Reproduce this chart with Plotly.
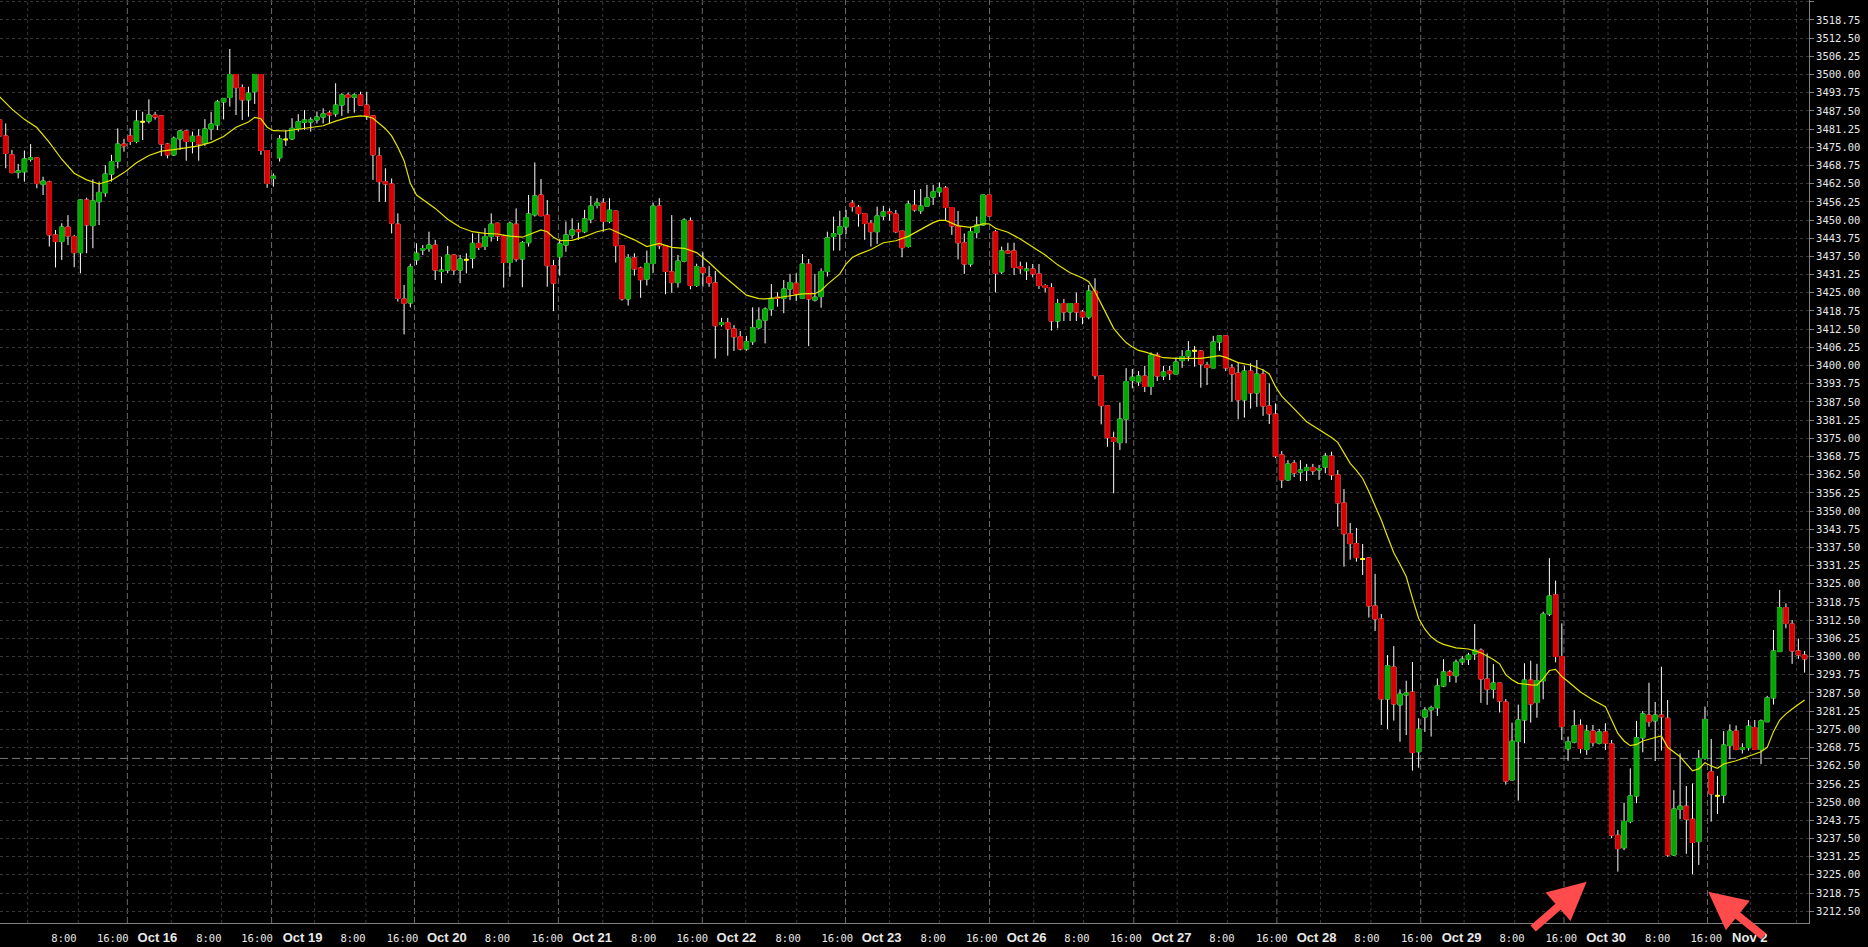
import plotly.graph_objects as go

# ---------------- data (hourly candles) ----------------
opens = [
    3484.4, 3478.9, 3472.4, 3466.3, 3466.6, 3470.9, 3471.4, 3462.3, 3463.1, 3444.9,
    3442.6, 3447.6, 3444.3, 3438.8, 3456.9, 3448.1, 3456.3, 3459.4, 3465.8, 3470.1,
    3476.1, 3478.9, 3477.0, 3483.8, 3484.0, 3486.1, 3485.8, 3476.1, 3472.4, 3477.9,
    3480.6, 3477.0, 3478.8, 3476.4, 3481.3, 3482.7, 3490.6, 3492.1, 3500.0, 3495.5,
    3491.3, 3494.1, 3500.0, 3473.9, 3464.3, 3471.4, 3477.7, 3477.9, 3481.5, 3483.6,
    3483.7, 3484.4, 3485.4, 3486.8, 3486.5, 3489.5, 3493.0, 3492.2, 3493.0, 3489.5,
    3485.8, 3472.0, 3463.2, 3462.4, 3448.6, 3422.9, 3421.5, 3436.3, 3439.7, 3440.2,
    3441.4, 3432.3, 3432.8, 3438.0, 3432.8, 3436.4, 3436.9, 3442.0, 3440.9, 3444.3,
    3448.9, 3444.5, 3435.4, 3448.6, 3436.6, 3442.2, 3451.8, 3458.6, 3451.7, 3434.3,
    3437.4, 3441.4, 3444.9, 3446.6, 3446.0, 3450.3, 3455.0, 3455.9, 3449.5, 3453.1,
    3441.2, 3422.9, 3437.0, 3433.5, 3429.7, 3435.1, 3454.8, 3441.2, 3432.2, 3428.5,
    3435.9, 3449.7, 3427.5, 3433.6, 3430.4, 3428.4, 3414.1, 3414.7, 3412.6, 3409.9,
    3405.7, 3408.2, 3413.0, 3415.6, 3419.4, 3423.5, 3423.1, 3426.3, 3428.3, 3423.1,
    3434.9, 3422.5, 3423.7, 3432.3, 3444.3, 3445.2, 3447.7, 3455.8, 3454.4, 3452.2,
    3448.9, 3446.0, 3451.4, 3452.8, 3452.1, 3446.2, 3440.9, 3455.1, 3453.2, 3454.8,
    3457.9, 3459.7, 3461.0, 3454.3, 3448.0, 3442.2, 3434.9, 3445.7, 3448.3, 3458.6,
    3446.0, 3432.2, 3439.4, 3439.4, 3434.0, 3432.6, 3433.2, 3431.5, 3427.5, 3426.8,
    3415.3, 3421.3, 3418.4, 3421.3, 3418.4, 3416.7, 3425.6, 3396.5, 3386.2, 3375.2,
    3373.5, 3381.6, 3394.9, 3394.4, 3396.4, 3392.8, 3403.6, 3396.4, 3398.1, 3397.1,
    3401.7, 3403.3, 3405.1, 3405.0, 3400.2, 3399.2, 3408.1, 3410.2, 3399.2, 3397.4,
    3388.2, 3398.1, 3390.6, 3397.1, 3386.1, 3383.3, 3369.3, 3360.7, 3366.5, 3363.4,
    3364.0, 3365.0, 3364.1, 3365.1, 3368.9, 3362.4, 3352.8, 3342.2, 3338.8, 3333.5,
    3333.9, 3317.4, 3312.9, 3285.4, 3296.4, 3283.4, 3286.8, 3287.8, 3267.3, 3279.2,
    3281.7, 3282.4, 3289.9, 3294.7, 3293.4, 3298.2, 3299.1, 3300.9, 3302.2, 3292.3,
    3288.8, 3290.9, 3284.4, 3257.6, 3270.8, 3278.2, 3291.9, 3284.2, 3291.7, 3314.6,
    3321.2, 3300.0, 3268.3, 3270.6, 3276.4, 3268.1, 3274.4, 3270.2, 3274.1, 3270.0,
    3238.6, 3234.3, 3243.3, 3252.1, 3272.1, 3279.9, 3277.9, 3279.9, 3278.8, 3231.8,
    3247.5, 3248.6, 3244.1, 3236.4, 3265.0, 3260.4, 3252.2, 3252.4, 3269.4, 3274.4,
    3268.1, 3268.7, 3275.6, 3268.1, 3277.6, 3285.8, 3301.7, 3316.8, 3311.2, 3301.9,
    3300.5,
]
highs = [
    3486.0, 3483.2, 3474.1, 3469.3, 3473.9, 3476.1, 3471.6, 3464.9, 3463.5, 3446.6,
    3448.9, 3451.7, 3444.9, 3457.1, 3457.7, 3464.0, 3463.2, 3468.9, 3472.4, 3481.5,
    3477.9, 3481.5, 3487.8, 3487.2, 3491.5, 3487.2, 3486.1, 3476.4, 3478.7, 3481.0,
    3481.0, 3480.4, 3481.2, 3484.7, 3487.2, 3491.3, 3491.8, 3508.8, 3500.0, 3496.6,
    3495.8, 3500.0, 3500.0, 3473.9, 3466.0, 3479.2, 3481.0, 3485.0, 3486.4, 3487.8,
    3485.3, 3487.3, 3488.4, 3487.6, 3497.0, 3493.6, 3493.8, 3493.6, 3494.1, 3494.1,
    3486.1, 3474.9, 3467.8, 3464.3, 3452.3, 3427.7, 3435.0, 3442.0, 3441.4, 3446.0,
    3443.2, 3437.4, 3441.1, 3438.2, 3438.0, 3438.6, 3445.4, 3445.4, 3447.2, 3452.3,
    3449.1, 3444.9, 3449.5, 3454.0, 3442.8, 3458.6, 3469.8, 3464.1, 3456.9, 3436.3,
    3443.4, 3449.5, 3450.6, 3449.1, 3453.5, 3458.3, 3457.5, 3457.5, 3457.5, 3453.1,
    3441.2, 3438.3, 3438.6, 3434.0, 3439.5, 3456.0, 3457.5, 3441.2, 3451.7, 3438.0,
    3450.6, 3450.9, 3435.0, 3438.9, 3434.2, 3432.5, 3416.4, 3416.4, 3413.9, 3411.9,
    3410.2, 3420.0, 3420.0, 3420.0, 3428.0, 3425.2, 3429.4, 3431.5, 3431.7, 3438.3,
    3436.6, 3431.5, 3433.4, 3446.0, 3451.2, 3453.2, 3453.5, 3456.9, 3455.2, 3452.2,
    3450.0, 3454.6, 3454.9, 3454.0, 3453.5, 3446.2, 3456.7, 3460.3, 3460.7, 3462.1,
    3462.1, 3462.9, 3461.7, 3454.3, 3453.1, 3445.4, 3447.7, 3451.2, 3458.6, 3458.6,
    3446.6, 3440.9, 3442.2, 3442.2, 3435.7, 3435.5, 3434.9, 3434.9, 3428.0, 3428.3,
    3422.9, 3422.9, 3421.3, 3425.1, 3419.1, 3427.7, 3430.0, 3396.5, 3386.2, 3377.3,
    3387.3, 3399.1, 3398.8, 3398.1, 3399.9, 3404.5, 3404.5, 3399.9, 3399.9, 3402.8,
    3405.3, 3408.4, 3406.7, 3405.3, 3401.3, 3410.2, 3410.2, 3410.2, 3400.5, 3401.0,
    3399.9, 3400.8, 3401.9, 3398.7, 3393.9, 3387.0, 3370.6, 3367.5, 3367.5, 3367.5,
    3366.2, 3366.2, 3365.8, 3370.0, 3370.4, 3364.1, 3357.6, 3345.9, 3344.2, 3338.7,
    3334.1, 3328.4, 3314.6, 3300.5, 3303.6, 3288.7, 3291.7, 3298.1, 3278.8, 3282.6,
    3283.1, 3292.5, 3299.1, 3295.4, 3299.0, 3300.2, 3301.3, 3311.2, 3302.8, 3301.1,
    3297.4, 3290.9, 3285.4, 3277.3, 3283.5, 3297.7, 3298.6, 3297.5, 3315.4, 3333.8,
    3326.1, 3311.4, 3272.5, 3281.6, 3278.4, 3276.5, 3276.5, 3275.1, 3277.1, 3271.3,
    3240.4, 3249.8, 3261.6, 3277.9, 3281.3, 3291.0, 3284.4, 3296.5, 3285.1, 3254.1,
    3266.7, 3255.5, 3256.4, 3267.9, 3282.8, 3271.7, 3259.0, 3274.4, 3276.7, 3276.3,
    3270.2, 3278.2, 3278.2, 3278.4, 3286.5, 3309.1, 3322.9, 3318.3, 3312.6, 3306.2,
    3301.9,
]
lows = [
    3476.5, 3467.8, 3466.1, 3464.3, 3463.2, 3470.1, 3460.9, 3458.6, 3440.9, 3433.7,
    3436.3, 3441.4, 3433.8, 3431.7, 3438.6, 3440.3, 3448.3, 3458.0, 3463.2, 3467.8,
    3473.5, 3475.8, 3476.4, 3477.5, 3483.2, 3484.5, 3472.0, 3471.2, 3472.0, 3474.1,
    3470.4, 3472.9, 3470.4, 3475.5, 3477.5, 3481.0, 3484.6, 3489.0, 3486.1, 3484.4,
    3485.5, 3489.9, 3472.4, 3461.1, 3461.5, 3470.1, 3475.5, 3477.5, 3480.4, 3481.0,
    3480.4, 3483.2, 3483.2, 3483.2, 3485.5, 3485.8, 3486.7, 3486.9, 3489.5, 3484.4,
    3463.8, 3456.3, 3456.3, 3445.4, 3422.0, 3410.7, 3420.0, 3434.6, 3438.0, 3439.1,
    3429.4, 3428.3, 3431.7, 3431.1, 3428.3, 3431.7, 3433.4, 3439.7, 3439.7, 3442.6,
    3442.8, 3426.8, 3430.5, 3435.7, 3426.9, 3440.9, 3451.2, 3451.4, 3427.1, 3418.7,
    3430.9, 3439.1, 3443.7, 3443.2, 3445.5, 3448.9, 3454.0, 3446.0, 3448.9, 3435.4,
    3422.3, 3420.6, 3430.9, 3423.3, 3427.5, 3431.9, 3440.0, 3424.5, 3425.0, 3426.8,
    3435.5, 3426.2, 3427.0, 3427.1, 3427.1, 3402.4, 3413.4, 3403.4, 3405.0, 3405.2,
    3405.1, 3407.1, 3412.5, 3407.6, 3417.1, 3420.2, 3418.0, 3422.5, 3422.2, 3422.9,
    3406.7, 3422.0, 3419.9, 3430.6, 3439.5, 3439.5, 3445.2, 3452.9, 3447.7, 3443.2,
    3440.9, 3441.8, 3450.0, 3449.8, 3445.5, 3437.2, 3440.5, 3452.9, 3452.1, 3454.8,
    3455.2, 3458.0, 3450.0, 3444.9, 3436.5, 3431.5, 3434.0, 3443.7, 3448.0, 3451.2,
    3425.1, 3431.5, 3438.6, 3431.1, 3431.5, 3429.4, 3430.3, 3426.3, 3425.2, 3412.0,
    3412.8, 3415.3, 3415.3, 3415.3, 3414.2, 3415.9, 3395.3, 3379.8, 3372.1, 3356.1,
    3371.0, 3373.3, 3392.2, 3393.0, 3390.9, 3389.9, 3394.7, 3395.0, 3395.0, 3397.1,
    3399.2, 3401.5, 3399.6, 3392.4, 3393.3, 3399.2, 3405.1, 3398.1, 3387.6, 3381.5,
    3382.1, 3385.2, 3385.8, 3382.7, 3379.9, 3368.2, 3357.9, 3360.3, 3361.7, 3360.3,
    3360.3, 3362.4, 3360.7, 3363.0, 3360.7, 3344.6, 3330.9, 3333.3, 3332.6, 3328.0,
    3313.4, 3308.8, 3276.5, 3275.1, 3278.0, 3270.7, 3273.0, 3260.8, 3261.8, 3274.1,
    3272.5, 3279.6, 3289.5, 3291.2, 3291.0, 3297.1, 3297.1, 3298.8, 3284.1, 3283.4,
    3285.6, 3280.8, 3256.0, 3257.5, 3250.5, 3270.2, 3277.3, 3279.0, 3285.3, 3313.9,
    3298.0, 3271.3, 3264.2, 3270.2, 3266.7, 3266.2, 3269.1, 3269.8, 3267.9, 3237.6,
    3226.1, 3233.5, 3242.7, 3249.6, 3267.1, 3275.9, 3264.1, 3267.7, 3231.2, 3231.5,
    3244.1, 3232.2, 3225.2, 3228.4, 3264.5, 3243.3, 3245.9, 3249.6, 3264.7, 3267.8,
    3266.7, 3267.7, 3268.1, 3263.0, 3277.5, 3283.5, 3301.7, 3309.7, 3297.5, 3299.2,
    3294.5,
]
closes = [
    3478.9, 3472.9, 3466.3, 3466.9, 3471.0, 3471.4, 3462.6, 3463.4, 3444.9, 3442.6,
    3447.6, 3444.5, 3438.8, 3456.9, 3448.3, 3456.6, 3459.5, 3465.8, 3470.1, 3476.1,
    3475.5, 3477.0, 3484.0, 3483.8, 3486.1, 3485.4, 3476.1, 3472.4, 3478.1, 3480.6,
    3477.0, 3478.8, 3476.1, 3481.3, 3483.0, 3490.6, 3491.8, 3500.0, 3495.5, 3491.3,
    3493.6, 3500.0, 3473.9, 3462.6, 3465.1, 3477.9, 3477.7, 3481.5, 3483.8, 3484.4,
    3484.4, 3485.4, 3486.5, 3486.1, 3489.5, 3493.0, 3492.2, 3493.0, 3489.5, 3485.8,
    3472.4, 3463.2, 3462.4, 3448.9, 3423.1, 3421.4, 3433.9, 3438.6, 3440.2, 3441.4,
    3432.8, 3432.8, 3438.0, 3432.8, 3436.6, 3436.4, 3442.0, 3440.6, 3444.3, 3448.6,
    3444.5, 3435.4, 3448.9, 3436.6, 3442.2, 3452.1, 3458.3, 3451.5, 3434.3, 3428.3,
    3441.8, 3444.9, 3446.6, 3446.0, 3450.4, 3454.8, 3455.9, 3449.5, 3453.4, 3441.2,
    3422.9, 3437.0, 3433.2, 3429.5, 3435.1, 3454.8, 3441.2, 3432.3, 3428.5, 3435.9,
    3450.0, 3427.5, 3434.0, 3431.9, 3428.4, 3413.7, 3414.8, 3412.6, 3409.9, 3405.7,
    3408.2, 3413.0, 3415.6, 3419.4, 3423.1, 3423.1, 3426.3, 3428.5, 3424.6, 3434.9,
    3422.9, 3423.5, 3432.3, 3443.9, 3445.3, 3447.7, 3450.8, 3454.6, 3452.2, 3448.8,
    3446.0, 3451.4, 3452.8, 3452.2, 3446.0, 3440.5, 3455.5, 3453.5, 3454.8, 3457.6,
    3459.7, 3461.0, 3454.3, 3448.0, 3442.2, 3434.9, 3446.0, 3448.3, 3458.6, 3451.4,
    3431.7, 3439.4, 3438.7, 3433.7, 3433.3, 3433.2, 3431.5, 3427.5, 3426.8, 3415.3,
    3421.3, 3418.4, 3421.3, 3418.4, 3416.7, 3425.6, 3396.5, 3386.2, 3375.2, 3373.9,
    3381.6, 3394.5, 3396.0, 3396.4, 3392.8, 3403.6, 3396.4, 3397.8, 3397.2, 3401.2,
    3403.1, 3405.0, 3405.1, 3400.5, 3399.3, 3408.1, 3410.2, 3399.2, 3397.1, 3388.2,
    3398.1, 3390.6, 3397.1, 3386.1, 3383.4, 3368.9, 3360.7, 3366.2, 3363.1, 3364.1,
    3365.0, 3363.8, 3364.6, 3368.9, 3362.4, 3352.8, 3342.2, 3338.8, 3334.0, 3333.5,
    3317.4, 3312.9, 3285.4, 3296.8, 3283.7, 3287.1, 3287.5, 3267.0, 3275.0, 3281.6,
    3282.4, 3289.9, 3294.7, 3293.5, 3298.1, 3299.1, 3300.5, 3302.2, 3292.3, 3288.8,
    3290.9, 3284.7, 3257.2, 3270.9, 3278.2, 3291.9, 3283.7, 3291.7, 3314.6, 3320.8,
    3300.0, 3275.9, 3270.7, 3276.2, 3268.4, 3274.4, 3270.4, 3274.1, 3270.2, 3238.6,
    3234.0, 3243.3, 3252.1, 3272.1, 3280.3, 3277.6, 3279.9, 3279.3, 3231.8, 3247.6,
    3248.6, 3244.1, 3236.1, 3265.0, 3278.4, 3252.8, 3252.2, 3269.6, 3274.4, 3268.1,
    3268.7, 3276.1, 3268.1, 3277.9, 3285.8, 3301.9, 3316.8, 3311.4, 3301.9, 3300.5,
    3299.2,
]

# moving average (yellow line), read at the given candle numbers
ma_index = [0, 2, 4, 6, 8, 10, 12, 14, 16, 18, 20, 22, 24, 26, 28, 30, 32, 34, 36, 38, 40, 41, 42, 43, 44,
            46, 48, 50, 52, 54, 56, 58, 59, 60, 62,
            63, 64, 65, 66, 67, 68, 70, 72, 74, 76, 78, 80, 82, 84, 86, 87, 88, 89, 90,
            92, 94, 96, 98, 100, 102, 104, 106, 108, 110, 112, 114, 116, 118, 120, 122,
            123, 125, 127, 129, 131, 132, 133, 134, 135, 136, 137, 138, 140, 142, 144, 146, 148, 150,
            151, 152, 154, 156, 158, 159, 160, 162, 164, 166, 168, 170, 172, 174,
            175, 176, 177, 178, 179, 180, 181,
            182, 183, 184, 185, 187, 189, 191, 193, 195, 196, 197, 199, 201, 203,
            204, 205, 206, 207, 208, 210, 212, 214, 215, 216, 217, 218,
            219, 220, 221, 222, 223, 224, 225, 226, 227, 228, 229, 230, 231, 232, 234, 236, 238, 240, 241,
            242, 243, 244, 246, 247, 248, 249, 250, 251, 252, 254, 256, 258, 259, 260, 261, 262, 263, 264,
            266, 267, 268, 270, 272, 273, 274, 275, 276, 277, 279, 281, 283, 284, 285, 286, 287, 288, 289, 290]
ma_value = [3492.4, 3488.1, 3484.6, 3481.8, 3476.7, 3470.9, 3466.1, 3463.8, 3462.4, 3463.7,
            3466.3, 3469.7, 3472.2, 3473.7, 3474.2, 3474.9, 3475.5, 3476.7, 3478.7, 3481.9,
            3483.7, 3485.3, 3484.8, 3481.9, 3480.7, 3480.6, 3481.2, 3481.6, 3482.4, 3484.0,
            3485.3, 3485.8, 3485.6, 3485.0, 3481.4,
            3478.9, 3475.0, 3470.4, 3462.6, 3458.6, 3457.1, 3454.0, 3450.3, 3447.5, 3446.0,
            3445.4, 3445.2, 3444.5, 3444.1, 3445.9, 3446.6, 3446.0, 3444.1, 3442.9,
            3443.0, 3444.3, 3446.0, 3447.0, 3445.2, 3443.2, 3440.9, 3442.0, 3440.6, 3440.3,
            3438.8, 3435.4, 3431.4, 3427.7, 3424.2, 3423.0,
            3422.9, 3423.3, 3423.9, 3424.6, 3424.7, 3425.8, 3427.9, 3429.6, 3431.5, 3434.9,
            3437.1, 3438.2, 3439.9, 3442.2, 3442.9, 3444.4, 3446.7, 3449.1,
            3449.9, 3449.9, 3448.0, 3447.5, 3448.7, 3448.7, 3447.2, 3445.8, 3443.5, 3440.6,
            3438.0, 3434.6, 3431.9, 3430.1,
            3428.8, 3425.4, 3421.2, 3416.6, 3412.8, 3410.2, 3407.9,
            3406.4, 3405.2, 3404.7, 3404.0, 3402.7, 3402.5, 3402.5, 3402.5, 3403.1, 3403.4,
            3402.8, 3401.0, 3400.2, 3398.5,
            3397.1, 3392.7, 3389.5, 3387.2, 3385.1, 3380.7, 3378.1, 3375.3, 3373.6, 3369.8,
            3366.4, 3364.0,
            3361.2, 3356.7, 3352.1, 3346.9, 3341.2, 3335.7, 3331.7, 3327.5, 3320.0, 3313.1,
            3309.4, 3306.8, 3305.2, 3304.2, 3303.0, 3302.6, 3301.3, 3299.0, 3297.5,
            3293.7, 3292.0, 3290.8, 3290.3, 3290.2, 3292.3, 3295.2, 3295.6, 3293.1, 3291.4,
            3287.8, 3285.1, 3282.8, 3278.2, 3273.6, 3271.0, 3269.4, 3269.8, 3271.0,
            3272.2, 3272.7, 3268.8, 3265.6, 3260.7, 3261.4, 3263.5, 3262.4, 3261.6, 3263.1,
            3264.2, 3265.8, 3267.3, 3268.8, 3274.2, 3278.2, 3280.3, 3282.0, 3283.7, 3285.1]

# time-axis labels and where they sit (in candle units)
tick_labels = ["8:00", "16:00", "Oct 16", "8:00", "16:00", "Oct 19", "8:00", "16:00", "Oct 20",
               "8:00", "16:00", "Oct 21", "8:00", "16:00", "Oct 22", "8:00", "16:00", "Oct 23",
               "8:00", "16:00", "Oct 26", "8:00", "16:00", "Oct 27", "8:00", "16:00", "Oct 28",
               "8:00", "16:00", "Oct 29", "8:00", "16:00", "Oct 30", "8:00", "16:00", "Nov 2"]
tick_at = [10.36, 18.19, 25.37, 33.63, 41.38, 48.69, 56.80, 64.76, 71.87, 80.0, 88.02, 95.2,
           103.5, 111.3, 118.4, 126.7, 134.6, 141.7, 150.0, 157.8, 165.0, 173.1, 181.0, 188.3,
           196.4, 204.4, 211.6, 219.7, 227.7, 234.9, 243.0, 250.9, 258.1, 266.4, 274.2, 281.2]
session_lines = [20.54, 43.71, 66.67, 89.79, 112.91, 135.92, 159.06, 182.23, 205.22, 228.33, 251.35, 274.4]
hour_lines = [4.53, 12.66, 27.59, 35.66, 50.63, 58.86, 73.75, 81.74, 96.92, 104.93, 119.89, 128.08,
              142.99, 151.01, 166.17, 174.15, 189.2, 197.28, 212.23, 220.33, 235.3, 243.43, 258.42,
              266.54, 281.3, 288.7]
price_level = 3265.0

# ---------------- styling ----------------
GREEN = "#00a800"
RED = "#d80000"
DOJI = "#ffff00"
MA_COLOR = "#e6e600"
GRID = "#383838"
TEXT = "#e8e8e8"

n = len(opens)
xs = list(range(n))
is_doji = [opens[i] == closes[i] for i in xs]

fig = go.Figure()

# white wicks (bodies are painted over below)
fig.add_trace(go.Candlestick(
    x=xs, open=opens, high=highs, low=lows, close=closes,
    increasing=dict(line=dict(color="#ffffff", width=1), fillcolor="#ffffff"),
    decreasing=dict(line=dict(color="#ffffff", width=1), fillcolor="#ffffff"),
    whiskerwidth=0, hoverinfo="skip", showlegend=False))

bx = [i for i in xs if not is_doji[i]]
fig.add_trace(go.Candlestick(
    x=bx,
    open=[opens[i] for i in bx], close=[closes[i] for i in bx],
    high=[max(opens[i], closes[i]) for i in bx], low=[min(opens[i], closes[i]) for i in bx],
    increasing=dict(line=dict(color=GREEN, width=1), fillcolor=GREEN),
    decreasing=dict(line=dict(color=RED, width=1), fillcolor=RED),
    whiskerwidth=0, hoverinfo="skip", showlegend=False))

dx = [i for i in xs if is_doji[i]]
fig.add_trace(go.Candlestick(
    x=dx,
    open=[opens[i] for i in dx], close=[closes[i] for i in dx],
    high=[opens[i] for i in dx], low=[opens[i] for i in dx],
    increasing=dict(line=dict(color=DOJI, width=2), fillcolor=DOJI),
    decreasing=dict(line=dict(color=DOJI, width=2), fillcolor=DOJI),
    whiskerwidth=0, hoverinfo="skip", showlegend=False))

fig.add_trace(go.Scatter(x=ma_index, y=ma_value, mode="lines",
                         line=dict(color=MA_COLOR, width=1.2),
                         hoverinfo="skip", showlegend=False))

ticktext = []
for t in tick_labels:
    if ":" in t:
        ticktext.append(t)
    else:
        ticktext.append("<b><span style=\"font-family:'Liberation Sans';font-size:13px\">" + t + "</span></b>")

shapes = []
for g in hour_lines:
    shapes.append(dict(type="line", xref="x", yref="paper", x0=g, x1=g, y0=0, y1=1,
                       line=dict(color=GRID, width=1, dash="3px,3px"), layer="below"))
for g in session_lines:
    shapes.append(dict(type="line", xref="x", yref="paper", x0=g, x1=g, y0=0, y1=1,
                       line=dict(color="#6a6a6a", width=1, dash="6px,3px"), layer="below"))
shapes.append(dict(type="line", xref="paper", yref="y", x0=0, x1=1, y0=price_level, y1=price_level,
                   line=dict(color="#7a7a7a", width=1, dash="8px,4px"), layer="below"))

ARROW = "#ff4b4b"
annotations = [
    dict(x=0.8771, y=0.0447, xref="paper", yref="paper", ax=-55, ay=48, text="",
         showarrow=True, arrowhead=2, arrowsize=0.95, arrowwidth=8, arrowcolor=ARROW),
    dict(x=0.9443, y=0.0339, xref="paper", yref="paper", ax=57, ay=46, text="",
         showarrow=True, arrowhead=2, arrowsize=0.95, arrowwidth=8, arrowcolor=ARROW),
]

fig.update_layout(
    width=1868, height=947,
    margin=dict(l=0, r=59, t=0, b=24),
    paper_bgcolor="#000000", plot_bgcolor="#000000",
    showlegend=False, hovermode=False,
    boxgap=0.3, boxgroupgap=0,
    shapes=shapes, annotations=annotations,
    xaxis=dict(range=[0.08, 290.71], showgrid=False, zeroline=False,
               tickmode="array", tickvals=tick_at, ticktext=ticktext,
               tickfont=dict(family="DejaVu Sans Mono", size=10.5, color=TEXT),
               ticks="", ticklabelstandoff=5,
               showline=True, linecolor="#808080", linewidth=1, mirror=True,
               rangeslider=dict(visible=False), automargin=False, fixedrange=True),
    yaxis=dict(side="right", range=[3208.44, 3525.62], tick0=3212.5, dtick=6.25,
               tickformat=".2f", showgrid=True, gridcolor=GRID, griddash="3px,3px", gridwidth=1,
               zeroline=False, ticks="outside", ticklen=4, tickcolor="#808080",
               tickfont=dict(family="DejaVu Sans Mono", size=10.5, color=TEXT),
               showline=True, linecolor="#808080", linewidth=1, mirror=True,
               automargin=False, fixedrange=True),
)

fig.write_html("out.html", config={"displayModeBar": False},
               post_script="document.body.style.margin='0px';document.body.style.overflow='hidden';")
